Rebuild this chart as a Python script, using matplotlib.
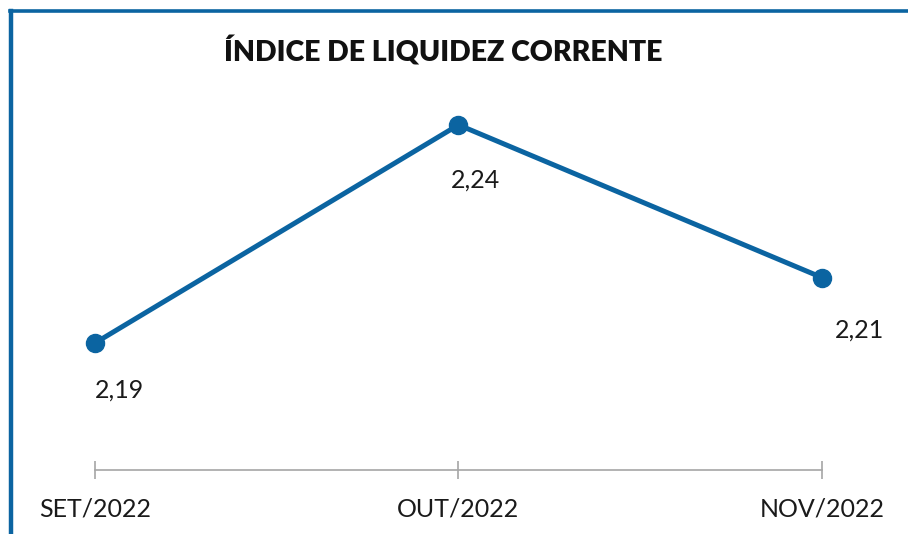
import matplotlib.pyplot as plt
from matplotlib.lines import Line2D

months = ["SET/2022", "OUT/2022", "NOV/2022"]
values = [2.19, 2.24, 2.205]
labels = ["2,19", "2,24", "2,21"]
label_offsets = [(18, -34), (12, -40), (27, -38)]  # points

BLUE = "#0B64A1"
GRAY = "#A6A6A6"
FONT = ["Lato", "DejaVu Sans"]

fig = plt.figure(figsize=(9.08, 5.34), dpi=100)
ax = fig.add_axes([0.1046, 0.1199, 0.8007, 0.7116])

x = list(range(len(months)))
ax.plot(x, values, color=BLUE, linewidth=3.6, marker="o", markersize=13,
        solid_capstyle="round", clip_on=False)

for xi, v, lab, off in zip(x, values, labels, label_offsets):
    ax.annotate(lab, (xi, v), xytext=off, textcoords="offset points",
                ha="center", va="center", fontsize=18, family=FONT,
                color="#1a1a1a")

ax.set_xlim(0, 2)
ax.set_ylim(2.1609, 2.248)
ax.set_xticks(x)
ax.set_xticklabels(months, fontsize=18, family=FONT, color="#1a1a1a")
ax.set_yticks([])
for s in ["top", "right", "left"]:
    ax.spines[s].set_visible(False)
ax.spines["bottom"].set_color(GRAY)
ax.spines["bottom"].set_linewidth(1.2)
ax.tick_params(axis="x", direction="inout", length=13, width=1.2,
               color=GRAY, pad=13)

fig.text(0.488, 0.903, "ÍNDICE DE LIQUIDEZ CORRENTE", ha="center",
         va="center", fontsize=20.5, fontweight="heavy", family=FONT,
         color="#111111")

# frame lines on top and left
fig.add_artist(Line2D([0.0121, 0.0121], [0.0, 0.979], color=BLUE,
                      linewidth=3.2, transform=fig.transFigure))
fig.add_artist(Line2D([0.0105, 1.0], [0.979, 0.979], color=BLUE,
                      linewidth=2.6, transform=fig.transFigure))

fig.savefig("out.png", dpi=100)
